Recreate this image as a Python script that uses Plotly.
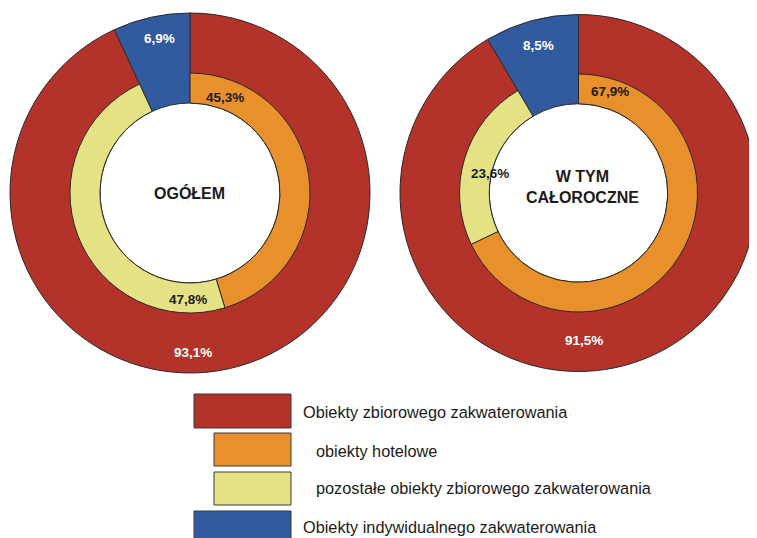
import plotly.graph_objects as go

W, H = 757, 538          # browser window
OFF = 8                  # default body margin of the html page
FW, FH = W - OFF, H - OFF  # figure size so that it fits the window exactly

# ---- data ----
panels = ["OGÓŁEM", "W TYM<br>CAŁOROCZNE"]
outer_labels = ["Obiekty zbiorowego zakwaterowania", "Obiekty indywidualnego zakwaterowania"]
inner_labels = ["obiekty hotelowe", "pozostałe obiekty zbiorowego zakwaterowania", ""]
outer_left = [93.1, 6.9]
inner_left = [45.3, 47.8, 6.9]
outer_right = [91.5, 8.5]
inner_right = [67.9, 23.6, 8.5]
legend_labels = ["Obiekty zbiorowego zakwaterowania", "obiekty hotelowe",
                 "pozostałe obiekty zbiorowego zakwaterowania",
                 "Obiekty indywidualnego zakwaterowania"]

RED, ORANGE, YELLOW, BLUE = "#B3322A", "#E8912C", "#E4E284", "#325A9E"
LINE = "#2a2a2a"
FONT = "Liberation Sans, Arial, sans-serif"


def px_x(x):
    return (x - OFF) / FW


def px_y(y):
    return 1 - (y - OFF) / FH


def dom(cx, cy, r):
    return dict(x=[max(0, px_x(cx - r)), min(1, px_x(cx + r))],
                y=[max(0, px_y(cy + r)), min(1, px_y(cy - r))])


def fmt(v):
    return f"{v:.1f}%".replace(".", ",")


fig = go.Figure()

geoms = [(190, 193, 180), (578.5, 193, 178.5)]
data = [(outer_left, inner_left), (outer_right, inner_right)]

for (cx, cy, R), (outer, inner) in zip(geoms, data):
    r_in = R * 120 / 180
    fig.add_trace(go.Pie(
        values=outer, labels=outer_labels, sort=False, direction="clockwise",
        rotation=0, hole=0.5, domain=dom(cx, cy, R),
        marker=dict(colors=[RED, BLUE], line=dict(color=LINE, width=1)),
        textinfo="none", hoverinfo="label+value", showlegend=False))
    fig.add_trace(go.Pie(
        values=inner, labels=inner_labels, sort=False, direction="clockwise",
        rotation=0, hole=0.75, domain=dom(cx, cy, r_in),
        marker=dict(colors=[ORANGE, YELLOW, "rgba(0,0,0,0)"],
                    line=dict(color=[LINE, LINE, "rgba(0,0,0,0)"], width=1)),
        textinfo="none", hoverinfo="label+value", showlegend=False))

annotations = []


def ann(x, y, text, size=13.5, color="#1a1a1a", bold=True):
    annotations.append(dict(
        x=px_x(x), y=px_y(y), xref="paper", yref="paper",
        text=(f"<b>{text}</b>" if bold else text),
        showarrow=False, xanchor="center", yanchor="middle",
        font=dict(family=FONT, size=size, color=color)))


# left panel labels
ann(159, 39, fmt(outer_left[1]), color="white")
ann(193, 352, fmt(outer_left[0]), color="white")
ann(225, 98, fmt(inner_left[0]))
ann(188, 299, fmt(inner_left[1]))
ann(189, 193, panels[0], size=16)
# right panel labels
ann(538, 46, fmt(outer_right[1]), color="white")
ann(584, 340, fmt(outer_right[0]), color="white")
ann(610, 92, fmt(inner_right[0]))
ann(490, 174, fmt(inner_right[1]))
ann(582, 187, panels[1], size=16)

# custom legend
box_colors = [RED, ORANGE, YELLOW, BLUE]
box_x0 = [194, 214, 214, 194]
box_y = [(394, 428), (433, 466), (472, 505), (511, 545)]
text_x = [301, 314, 314, 301]
text_y = [412, 451, 488, 527]
shapes = []
for i, lab in enumerate(legend_labels):
    y0, y1 = box_y[i]
    shapes.append(dict(type="rect", xref="paper", yref="paper",
                       x0=px_x(box_x0[i]), x1=px_x(291), y0=px_y(y1), y1=px_y(y0),
                       fillcolor=box_colors[i], line=dict(color="#3a3a3a", width=1)))
    annotations.append(dict(
        x=px_x(text_x[i]), y=px_y(text_y[i]), xref="paper", yref="paper",
        text=lab, showarrow=False, xanchor="left", yanchor="middle",
        font=dict(family=FONT, size=16.3, color="#1a1a1a")))

fig.update_layout(
    width=FW, height=FH, margin=dict(l=0, r=0, t=0, b=0),
    paper_bgcolor="white", plot_bgcolor="white",
    annotations=annotations, shapes=shapes, showlegend=False)

fig.write_html("out.html")
